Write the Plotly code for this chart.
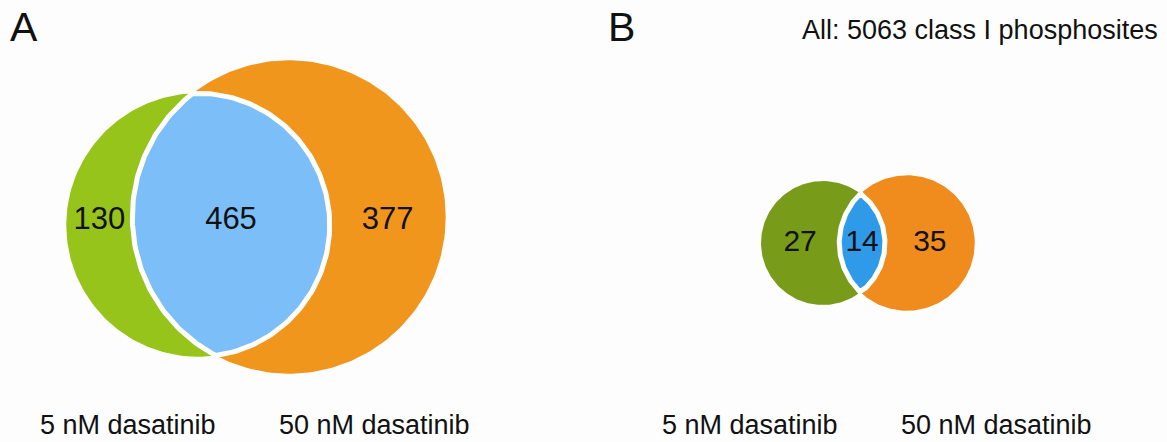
import numpy as np
import plotly.graph_objects as go

# ---------------- data ----------------
panels = ["A", "B"]
set_names = ["5 nM dasatinib", "50 nM dasatinib"]
only_5nM = [130, 27]
both = [465, 14]
only_50nM = [377, 35]
title_text = "All: 5063 class I phosphosites"

# ---------------- layout / style ----------------
W, H = 1167, 442
FONT = "Liberation Sans, Arial, sans-serif"
BG = "#FDFDFD"
# per panel: px per sqrt(count), left circle centre, right circle centre
panel_scale = [5.4, 9.68]
left_centre = [(198, 225), (823, 243)]
right_centre = [(289, 217), (907, 243)]
colors_left = ["#97C41B", "#789B19"]
colors_right = ["#F0961C", "#F08C1E"]
colors_mid = ["#7BBEF8", "#2F9BE8"]
num_size = [31, 30]
label_x = [(128, 374), (750, 996)]
label_y = 425
panel_letter_x = [8, 606]

fig = go.Figure()


def circle_pts(cx, cy, r, a0=0.0, a1=2 * np.pi, n=240):
    t = np.linspace(a0, a1, n)
    return cx + r * np.cos(t), cy + r * np.sin(t)


def lens(c1, r1, c2, r2):
    (x1, y1), (x2, y2) = c1, c2
    d = np.hypot(x2 - x1, y2 - y1)
    a = (r1 ** 2 - r2 ** 2 + d ** 2) / (2 * d)
    al1 = np.arccos(np.clip(a / r1, -1, 1))
    al2 = np.arccos(np.clip((d - a) / r2, -1, 1))
    p12 = np.arctan2(y2 - y1, x2 - x1)
    p21 = np.arctan2(y1 - y2, x1 - x2)
    ax, ay = circle_pts(x1, y1, r1, p12 - al1, p12 + al1, 120)
    bx, by = circle_pts(x2, y2, r2, p21 - al2, p21 + al2, 120)
    # orient second arc to continue from end of first
    if np.hypot(bx[0] - ax[-1], by[0] - ay[-1]) > np.hypot(bx[-1] - ax[-1], by[-1] - ay[-1]):
        bx, by = bx[::-1], by[::-1]
    return np.concatenate([ax, bx, ax[:1]]), np.concatenate([ay, by, ay[:1]])


for i in range(len(panels)):
    k = panel_scale[i]
    r_left = k * np.sqrt(only_5nM[i] + both[i])
    r_right = k * np.sqrt(only_50nM[i] + both[i])
    cl, cr = left_centre[i], right_centre[i]

    x, y = circle_pts(cl[0], cl[1], r_left)
    fig.add_trace(go.Scatter(x=x, y=y, mode="lines", fill="toself",
                             fillcolor=colors_left[i], line=dict(width=0, color=colors_left[i]),
                             hoverinfo="skip", showlegend=False))
    x, y = circle_pts(cr[0], cr[1], r_right)
    fig.add_trace(go.Scatter(x=x, y=y, mode="lines", fill="toself",
                             fillcolor=colors_right[i], line=dict(width=0, color=colors_right[i]),
                             hoverinfo="skip", showlegend=False))
    lx, ly = lens(cl, r_left, cr, r_right)
    fig.add_trace(go.Scatter(x=lx, y=ly, mode="lines", fill="toself",
                             fillcolor=colors_mid[i], line=dict(width=5, color="white"),
                             hoverinfo="skip", showlegend=False))

    # region counts
    left_edge_right = cr[0] - r_right
    right_edge_left = cl[0] + r_left
    xs = [(cl[0] - r_left + left_edge_right) / 2,
          (left_edge_right + right_edge_left) / 2,
          (right_edge_left + cr[0] + r_right) / 2]
    ym = (cl[1] + cr[1]) / 2
    fig.add_trace(go.Scatter(x=xs, y=[ym, ym, ym], mode="text",
                             text=[str(only_5nM[i]), str(both[i]), str(only_50nM[i])],
                             textfont=dict(family=FONT, size=num_size[i], color="#111111"),
                             textposition="middle center", hoverinfo="skip", showlegend=False))

    # set labels
    for j, name in enumerate(set_names):
        fig.add_annotation(x=label_x[i][j], y=label_y, text=name, showarrow=False,
                           xanchor="center", yanchor="middle",
                           font=dict(family=FONT, size=27, color="#111111"))
    # panel letter
    fig.add_annotation(x=panel_letter_x[i], y=27, text=panels[i], showarrow=False,
                       xanchor="left", yanchor="middle",
                       font=dict(family=FONT, size=41, color="#111111"))

fig.add_annotation(x=1160, y=30, text=title_text, showarrow=False,
                   xanchor="right", yanchor="middle",
                   font=dict(family=FONT, size=27, color="#111111"))

fig.update_layout(
    width=W, height=H, margin=dict(l=0, r=0, t=0, b=0),
    paper_bgcolor=BG, plot_bgcolor=BG,
    xaxis=dict(range=[0, W], visible=False, fixedrange=True),
    yaxis=dict(range=[H, 0], visible=False, fixedrange=True),
    showlegend=False,
)
fig.write_html("out.html", config={"displayModeBar": False},
               post_script="document.body.style.margin='0px';document.body.style.overflow='hidden';")
